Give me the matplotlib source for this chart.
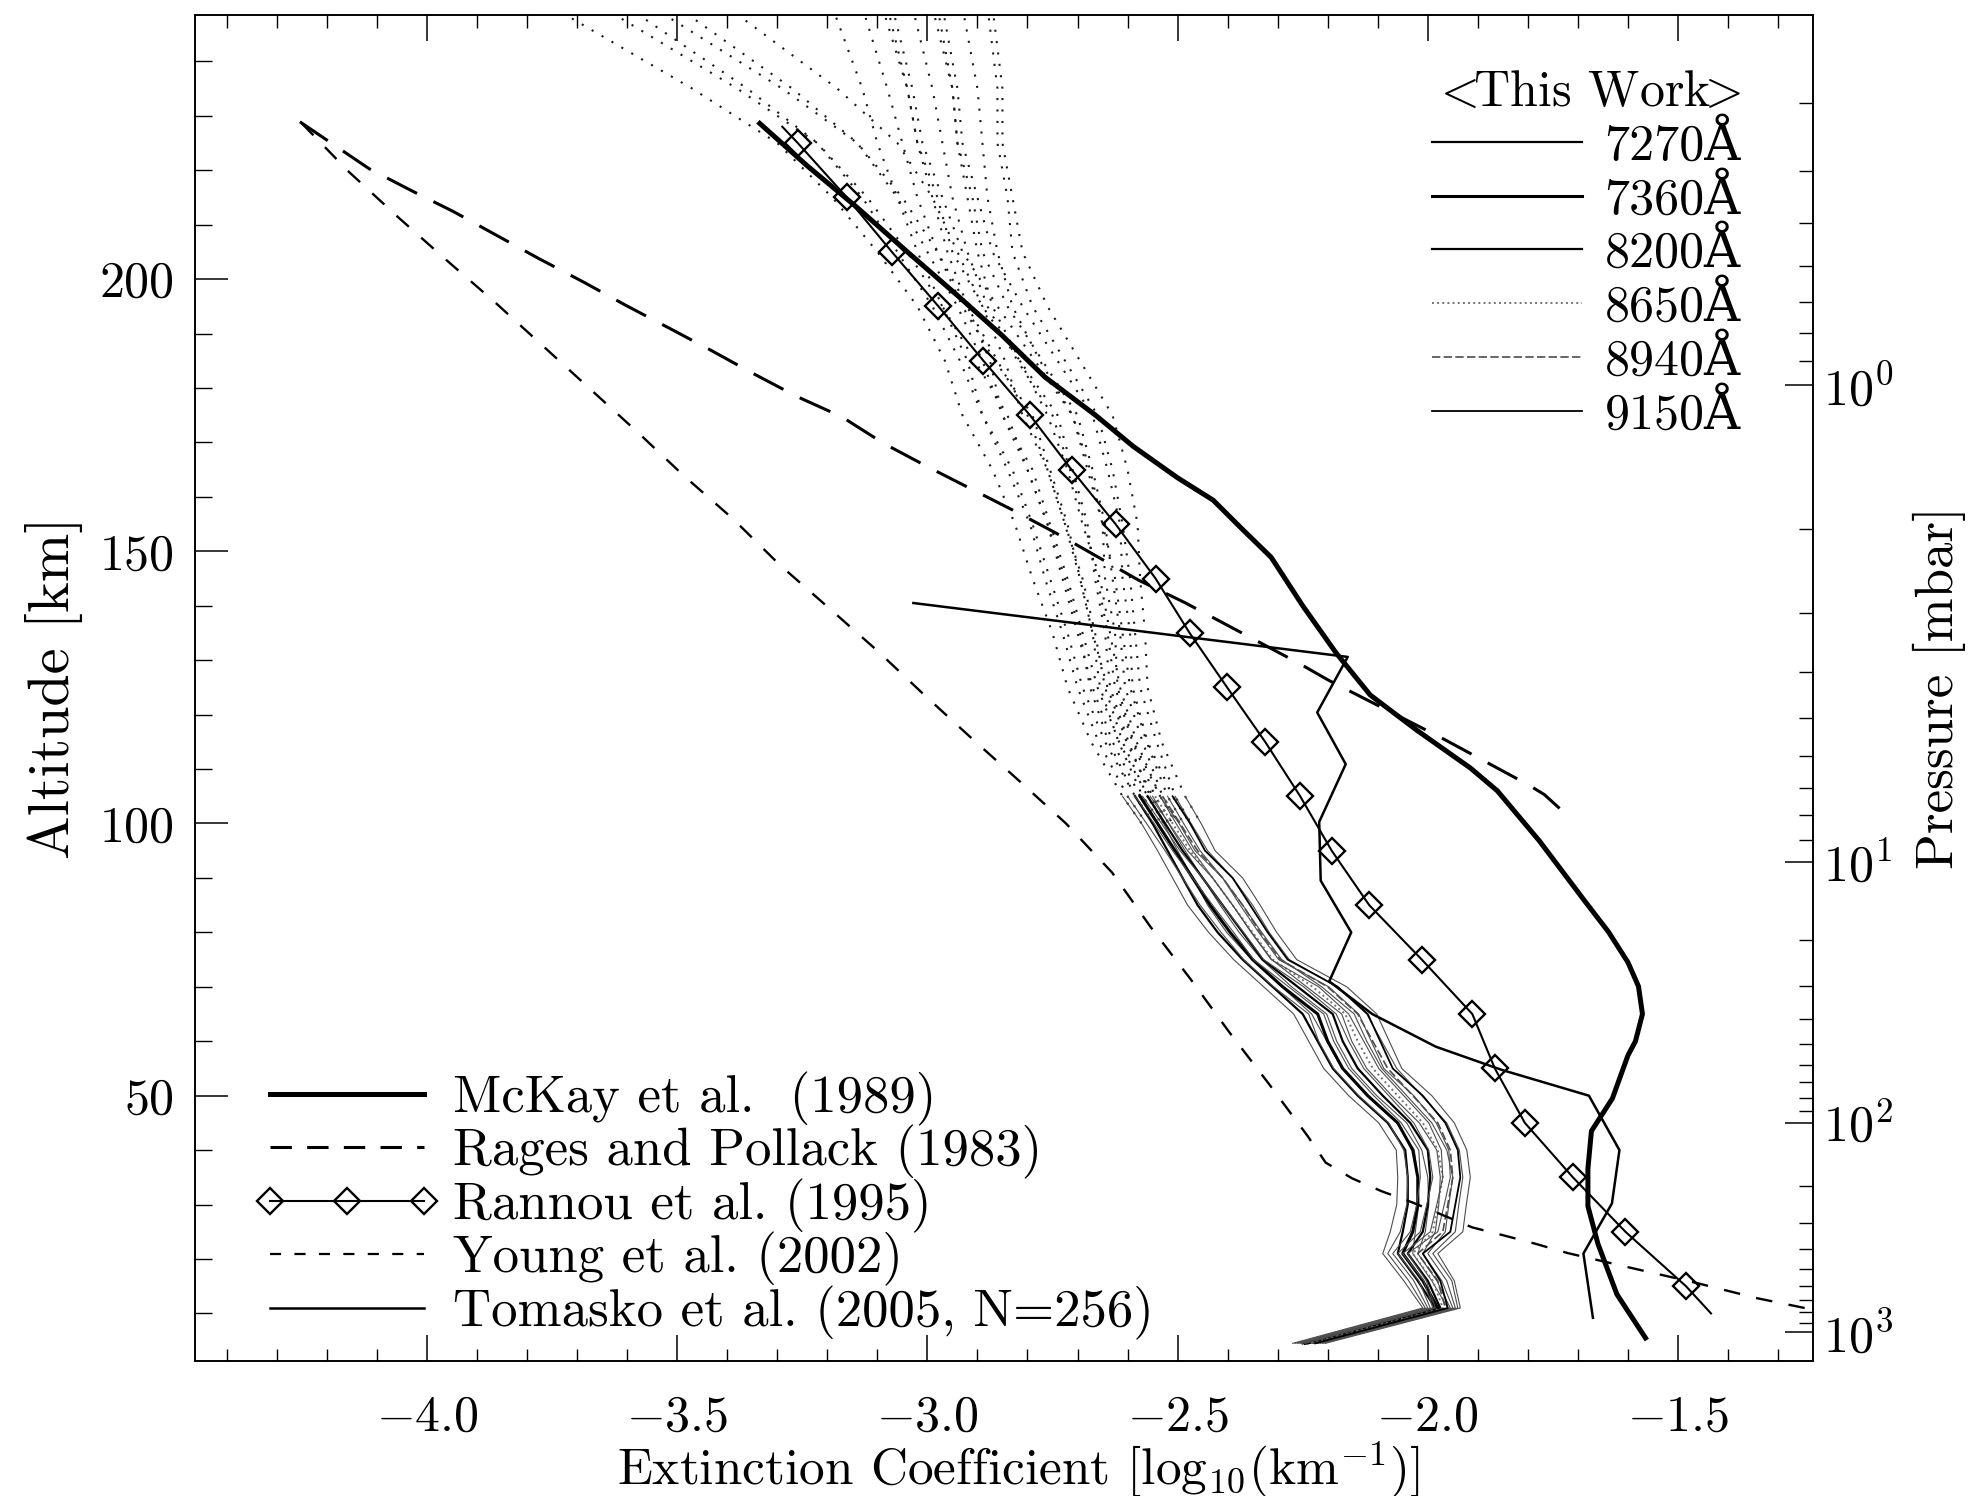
import numpy as np
import matplotlib.pyplot as plt
from matplotlib.lines import Line2D
from matplotlib.ticker import MultipleLocator, FixedLocator

plt.rcParams['font.family'] = ['cmr10', 'DejaVu Serif']
plt.rcParams['mathtext.fontset'] = 'cm'
plt.rcParams['font.size'] = 36
plt.rcParams['axes.linewidth'] = 1.2

# ---- McKay et al. (1989) ----
mckay_x = [-3.335, -3.24, -3.141, -3.04, -2.94, -2.85, -2.765, -2.664, -2.589, -2.50,
           -2.429, -2.37, -2.313, -2.25, -2.183, -2.115, -2.023, -1.915, -1.861, -1.777,
           -1.685, -1.639, -1.60, -1.579, -1.571, -1.585, -1.60, -1.631, -1.673, -1.680,
           -1.680, -1.660, -1.622, -1.565]
mckay_alt = [228.6, 220.8, 213.2, 205.0, 197.0, 189.6, 182.0, 175.0, 169.3, 163.5,
             159.4, 154.0, 148.9, 140.0, 131.3, 123.6, 117.2, 110.2, 106.0, 96.8,
             85.6, 80.1, 74.5, 70.1, 65.0, 60.0, 57.4, 49.5, 43.5, 36.6,
             29.7, 22.8, 13.5, 5.5]

# ---- Rages and Pollack (1983) ----
rages_x = [-4.254, -4.116, -4.032, -3.947, -3.862, -3.777, -3.688, -3.603, -3.514, -3.434,
           -3.349, -3.260, -3.171, -3.087, -2.999, -2.830, -2.742, -2.578, -2.486, -2.396,
           -2.257, -2.198, -1.968, -1.797, -1.767, -1.720]
rages_alt = [228.9, 220.3, 216.3, 212.4, 208.1, 203.8, 199.5, 195.2, 190.9, 187.0,
             182.7, 178.4, 174.7, 169.8, 165.5, 157.6, 153.3, 144.7, 140.6, 136.2,
             129.4, 126.3, 115.5, 107.0, 105.3, 101.4]

# ---- Rannou et al. (1995) ----
rannou_x = [-3.29, -3.259, -3.161, -3.071, -2.978, -2.888, -2.795, -2.712, -2.624, -2.544,
            -2.476, -2.401, -2.325, -2.255, -2.192, -2.117, -2.012, -1.911, -1.866, -1.806,
            -1.710, -1.605, -1.484, -1.434]
rannou_alt = [228, 225, 215, 205, 195, 185, 175, 165, 155, 145,
              135, 125, 115, 105, 95, 85, 75, 65, 55, 45,
              35, 25, 15, 10]

# ---- Young et al. (2002) ----
young_x = [-4.250, -4.156, -4.058, -3.960, -3.866, -3.768, -3.675, -3.577, -3.487, -3.389,
           -3.295, -3.197, -3.102, -3.006, -2.911, -2.815, -2.723, -2.631, -2.554, -2.474,
           -2.397, -2.317, -2.241, -2.204, -2.151, -2.091, -2.031, -1.911, -1.851, -1.785,
           -1.721, -1.600, -1.463, -1.342, -1.210]
young_alt = [228.6, 219.7, 211.4, 203.4, 195.9, 187.7, 179.9, 171.7, 163.9, 156.0,
             147.5, 139.6, 131.9, 123.6, 115.6, 107.7, 100.0, 91.0, 81.0, 71.4,
             61.7, 52.1, 42.7, 37.7, 34.8, 32.4, 30.4, 25.8, 24.4, 22.8,
             21.1, 18.5, 15.6, 12.8, 10.3]

# ---- Tomasko et al. (2005) ----
tomasko_x = [-3.028, -2.160, -2.221, -2.164, -2.217, -2.214, -2.153, -2.197, -2.111, -1.984,
             -1.851, -1.678, -1.617, -1.632, -1.689, -1.670]
tomasko_alt = [140.5, 130.6, 120.4, 110.9, 100.3, 89.5, 80.0, 71.0, 65.0, 59.0,
               54.7, 50.0, 40.0, 30.2, 21.0, 9.2]

# ---- This work: six wavelengths, profile and +/- uncertainty ----
tw_alt = [250, 235, 225, 215, 205, 195, 185, 175, 165, 155, 145, 135, 125, 115, 105,
          100, 95, 90, 85, 80, 75, 70, 65, 60, 55, 50, 45, 40, 35, 30, 25, 21, 16, 11, 4.5]
tw_7270 = [-3.65, -3.38, -3.22, -3.12, -3.04, -2.97, -2.92, -2.89, -2.83, -2.79, -2.755, -2.72, -2.69, -2.645, -2.585,
           -2.55, -2.52, -2.49, -2.46, -2.42, -2.37, -2.31, -2.25, -2.22, -2.19, -2.14, -2.08, -2.045, -2.04, -2.04,
           -2.05, -2.06, -2.02, -1.985, -2.25]
tw_7360 = [-3.50, -3.27, -3.14, -3.06, -3.00, -2.94, -2.89, -2.85, -2.80, -2.76, -2.73, -2.70, -2.67, -2.63, -2.575,
           -2.54, -2.505, -2.47, -2.435, -2.395, -2.35, -2.29, -2.22, -2.20, -2.17, -2.12, -2.06, -2.03, -2.02, -2.02,
           -2.03, -2.05, -2.01, -1.98, -2.245]
tw_8200 = [-3.09, -3.04, -3.02, -2.99, -2.96, -2.92, -2.86, -2.80, -2.76, -2.725, -2.69, -2.665, -2.645, -2.61, -2.56,
           -2.525, -2.49, -2.45, -2.41, -2.37, -2.33, -2.26, -2.19, -2.17, -2.14, -2.09, -2.035, -2.00, -1.995, -2.00,
           -2.01, -2.04, -2.00, -1.975, -2.24]
tw_8650 = [-3.03, -2.99, -2.97, -2.95, -2.92, -2.88, -2.82, -2.75, -2.715, -2.685, -2.66, -2.64, -2.625, -2.59, -2.545,
           -2.51, -2.475, -2.43, -2.39, -2.35, -2.31, -2.23, -2.165, -2.14, -2.11, -2.06, -2.01, -1.98, -1.97, -1.98,
           -1.99, -2.03, -1.99, -1.97, -2.235]
tw_8940 = [-2.98, -2.95, -2.94, -2.91, -2.89, -2.84, -2.77, -2.70, -2.67, -2.645, -2.63, -2.615, -2.605, -2.57, -2.53,
           -2.495, -2.46, -2.41, -2.37, -2.335, -2.295, -2.20, -2.14, -2.11, -2.08, -2.03, -1.98, -1.955, -1.95, -1.96,
           -1.97, -2.02, -1.98, -1.965, -2.23]
tw_9150 = [-2.97, -2.94, -2.93, -2.90, -2.87, -2.81, -2.74, -2.67, -2.64, -2.615, -2.61, -2.595, -2.59, -2.56, -2.51,
           -2.475, -2.445, -2.39, -2.355, -2.32, -2.28, -2.18, -2.12, -2.095, -2.07, -2.01, -1.965, -1.94, -1.935, -1.945,
           -1.955, -2.01, -1.975, -1.96, -2.225]
tw_err = [0.10, 0.09, 0.08, 0.07, 0.06, 0.05, 0.045, 0.04, 0.04, 0.035, 0.035, 0.03, 0.03, 0.028, 0.025,
          0.022, 0.02, 0.02, 0.02, 0.018, 0.018, 0.018, 0.018, 0.018, 0.018, 0.018, 0.018, 0.018, 0.02, 0.022,
          0.025, 0.03, 0.028, 0.025, 0.02]
tw_labels = ['7270Å', '7360Å', '8200Å', '8650Å', '8940Å', '9150Å']
tw_profiles = [tw_7270, tw_7360, tw_8200, tw_8650, tw_8940, tw_9150]

# pressure levels (mbar) and the altitude where each sits
p_anchor = [0.1, 1, 10, 100, 1000]
p_anchor_alt = [279.5, 180.5, 93.0, 45.0, 6.5]

# ---- figure ----
fig = plt.figure(figsize=(19.70, 14.96), dpi=100)
ax = fig.add_axes([0.0990, 0.0902, 0.8213, 0.8997])

dotted = (0, (1, 4.5))
tw_styles = [dict(ls='-', lw=1.6), dict(ls='-', lw=2.2), dict(ls='-', lw=1.6),
             dict(ls=':', lw=1.4, color='0.45'), dict(ls=(0, (5, 2)), lw=1.2, color='0.3'),
             dict(ls='-', lw=1.3)]

alt = np.array(tw_alt)
err = np.array(tw_err)
up = alt >= 100
low = alt <= 105
for prof, st in zip(tw_profiles, tw_styles):
    c = np.array(prof)
    col = st.get('color', 'k')
    for b in (c - err, c + err):
        ax.plot(b[up], alt[up], color='0.1', lw=1.5, ls=dotted)
        ax.plot(b[low], alt[low], color='0.3', lw=0.8, ls='-')
    ax.plot(c[up], alt[up], color='0.1', lw=1.5, ls=dotted)
    ax.plot(c[low], alt[low], color=col, lw=st['lw'], ls=st['ls'])

ax.plot(young_x, young_alt, color='k', lw=1.7, dashes=(7, 7))
ax.plot(rages_x, rages_alt, color='k', lw=2.2, dashes=(11, 6))
ax.plot(tomasko_x, tomasko_alt, color='k', lw=1.8)
ax.plot(rannou_x, rannou_alt, color='k', lw=1.5, marker='D', ms=13, mfc='none',
        mec='k', mew=1.7, markevery=list(range(1, len(rannou_x) - 1)))
ax.plot(mckay_x, mckay_alt, color='k', lw=3.6, solid_joinstyle='round')

ax.set_xlim(-4.4636, -1.2302)
ax.set_ylim(1.25, 248.5)

xt = [-4.0, -3.5, -3.0, -2.5, -2.0, -1.5]
ax.set_xticks(xt)
ax.set_xticklabels([r'$%.1f$' % v for v in xt])
ax.xaxis.set_minor_locator(MultipleLocator(0.1))
ax.set_yticks([50, 100, 150, 200])
ax.yaxis.set_minor_locator(MultipleLocator(10))
ax.tick_params(which='both', direction='in', top=True, right=False, labelsize=36)
ax.tick_params(axis='x', which='major', length=19, width=1.1, pad=24)
ax.tick_params(axis='x', which='minor', length=9, width=1.0)
ax.tick_params(axis='y', which='major', length=24, width=1.1, pad=15)
ax.tick_params(axis='y', which='minor', length=12, width=1.0)

ax.set_xlabel(r'Extinction Coefficient [log$_{10}$(km$^{-1}$)]', fontsize=37)
ax.xaxis.set_label_coords(0.5087, -0.058)
ax.set_ylabel('Altitude [km]', fontsize=42, labelpad=12)

# pressure axis on the right
ax2 = ax.twinx()
ax2.set_ylim(ax.get_ylim())
lp = np.log10(p_anchor)
p_major = [1, 10, 100, 1000]
p_minor = [m * d for d in (0.1, 1, 10, 100) for m in range(2, 10)]
ax2.yaxis.set_major_locator(FixedLocator(np.interp(np.log10(p_major), lp, p_anchor_alt)))
ax2.yaxis.set_minor_locator(FixedLocator(np.interp(np.log10(p_minor), lp, p_anchor_alt)))
ax2.set_yticklabels([r'$10^{%d}$' % k for k in range(4)])
ax2.tick_params(axis='y', which='major', direction='in', length=20, width=1.1, pad=7, labelsize=36)
ax2.tick_params(axis='y', which='minor', direction='in', length=10, width=1.0)
ax2.set_ylabel('Pressure [mbar]', fontsize=38, labelpad=14)

# legends
ref_handles = [
    Line2D([], [], color='k', lw=3.6),
    Line2D([], [], color='k', lw=2.2, dashes=(7, 5)),
    Line2D([], [], color='k', lw=1.5, marker='D', ms=13, mfc='none', mew=1.7),
    Line2D([], [], color='k', lw=1.6, dashes=(5, 6)),
    Line2D([], [], color='k', lw=1.8),
]
ref_labels = ['McKay et al.  (1989)', 'Rages and Pollack (1983)', 'Rannou et al. (1995)',
              'Young et al. (2002)', 'Tomasko et al. (2005, N=256)']
leg1 = ax.legend(ref_handles, ref_labels, loc='lower left', bbox_to_anchor=(0.0364, 0.0156),
                 frameon=False, fontsize=38, handlelength=3.52, handletextpad=0.25,
                 labelspacing=-0.01, borderpad=0, borderaxespad=0, numpoints=3)
ax.add_artist(leg1)

tw_handles = [Line2D([], [], color=st.get('color', 'k'), lw=st['lw'], ls=st['ls']) for st in tw_styles]
ax.legend(tw_handles, tw_labels, title=r'$<\!\!$This Work$\!\!>$', title_fontsize=36,
          loc='upper left', bbox_to_anchor=(0.7645, 0.9593), frameon=False, fontsize=36,
          handlelength=3.0, handletextpad=0.45, labelspacing=0.12, borderpad=0, borderaxespad=0,
          alignment='left')

fig.savefig('out.png', dpi=100)
